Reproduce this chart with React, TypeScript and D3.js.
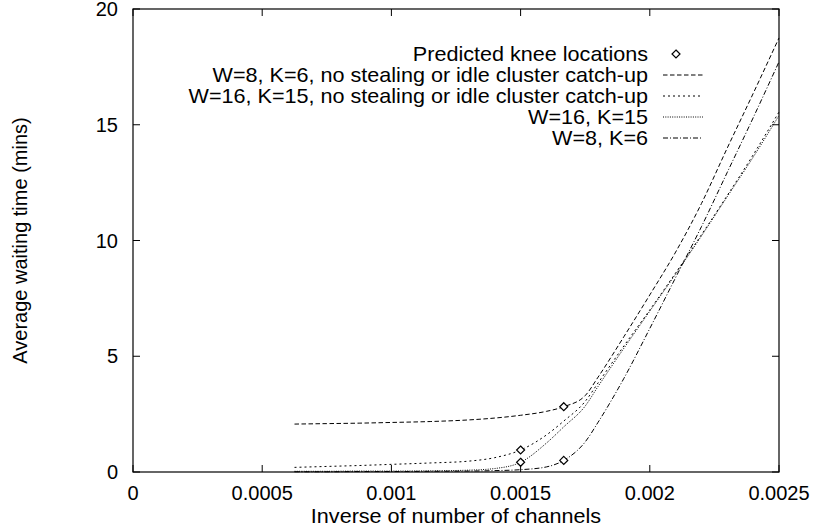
import React from 'react'
import * as d3 from 'd3'

// inverse of number of channels
const xs = [0.000625, 0.00075, 0.000875, 0.001, 0.00115, 0.0013, 0.0014, 0.0015, 0.0016, 0.001667, 0.00175, 0.0018, 0.0019, 0.002, 0.0021, 0.0022, 0.0023, 0.0024, 0.0025]

// average waiting time (mins)
const w8k6NoSteal = [2.07, 2.09, 2.11, 2.14, 2.18, 2.25, 2.33, 2.45, 2.62, 2.82, 3.3, 4.1, 5.85, 7.65, 9.5, 11.6, 14.0, 16.35, 18.75]
const w16k15NoSteal = [0.2, 0.24, 0.28, 0.33, 0.39, 0.47, 0.62, 0.95, 1.6, 2.2, 3.05, 3.85, 5.45, 7.0, 8.6, 10.25, 11.95, 13.7, 15.55]
const w16k15 = [0.03, 0.03, 0.04, 0.04, 0.05, 0.08, 0.15, 0.42, 1.25, 1.95, 2.85, 3.7, 5.35, 6.95, 8.55, 10.2, 11.9, 13.6, 15.4]
const w8k6 = [0.01, 0.01, 0.02, 0.02, 0.03, 0.04, 0.06, 0.1, 0.22, 0.5, 1.3, 2.15, 4.05, 6.2, 8.4, 10.6, 12.95, 15.3, 17.72]

const kneeX = [0.0015, 0.0015, 0.001667, 0.001667]
const kneeY = [0.42, 0.95, 0.5, 2.82]

const xTicks = [0, 0.0005, 0.001, 0.0015, 0.002, 0.0025]
const xTickLabels = ['0', '0.0005', '0.001', '0.0015', '0.002', '0.0025']
const yTicks = [0, 5, 10, 15, 20]

const seriesNames = [
  'W=8, K=6, no stealing or idle cluster catch-up',
  'W=16, K=15, no stealing or idle cluster catch-up',
  'W=16, K=15',
  'W=8, K=6',
]
const seriesValues = [w8k6NoSteal, w16k15NoSteal, w16k15, w8k6]
const dashes = ['4.5,2.5', '2,3', '1,1.3', '5,2,1,2']

const left = 133, right = 779, top = 9, bottom = 472
const font = 'Liberation Sans, Arial, Helvetica, sans-serif'

function Diamond({ cx, cy }: { cx: number; cy: number }) {
  const r = 4
  return (
    <path
      d={`M${cx},${cy - r}L${cx + r},${cy}L${cx},${cy + r}L${cx - r},${cy}Z`}
      fill="white"
      stroke="black"
      strokeWidth={1.2}
    />
  )
}

function HText({ x, y, anchor, size, stretch, children }: any) {
  return (
    <text
      transform={`translate(${x},${y}) scale(${stretch},1)`}
      textAnchor={anchor}
      dy="0.35em"
      fontSize={size}
      fontFamily={font}
      fill="black"
    >
      {children}
    </text>
  )
}

export default function App() {
  const x = d3.scaleLinear().domain([0, 0.0025]).range([left, right])
  const y = d3.scaleLinear().domain([0, 20]).range([bottom, top])

  const line = d3
    .line<number>()
    .x((d, i) => x(xs[i]))
    .y(d => y(d))
    .curve(d3.curveMonotoneX)

  const tickLen = 7
  const legendY = [54, 75, 96, 117, 138]
  const textRight = 648
  const sampleX1 = 663, sampleX2 = 703

  return (
    <svg width={814} height={529} style={{ position: 'absolute', left: 0, top: 0, background: 'white' }}>
      <rect x={0} y={0} width={814} height={529} fill="white" />

      {/* curves */}
      {seriesValues.map((vals, i) => (
        <path
          key={'s' + i}
          d={line(vals) || ''}
          fill="none"
          stroke="black"
          strokeWidth={1}
          strokeDasharray={dashes[i]}
        />
      ))}

      {/* knee markers */}
      {kneeX.map((kx, i) => (
        <Diamond key={'k' + i} cx={x(kx)} cy={y(kneeY[i])} />
      ))}

      {/* frame and mirrored ticks */}
      <rect x={left} y={top} width={right - left} height={bottom - top} fill="none" stroke="black" strokeWidth={1.2} />
      {xTicks.map((t, i) => (
        <g key={'xt' + i}>
          <line x1={x(t)} x2={x(t)} y1={bottom} y2={bottom - tickLen} stroke="black" />
          <line x1={x(t)} x2={x(t)} y1={top} y2={top + tickLen} stroke="black" />
          <text x={x(t)} y={493} dy="0.35em" textAnchor="middle" fontSize={20} fontFamily={font}>
            {xTickLabels[i]}
          </text>
        </g>
      ))}
      {yTicks.map((t, i) => (
        <g key={'yt' + i}>
          <line x1={left} x2={left + tickLen} y1={y(t)} y2={y(t)} stroke="black" />
          <line x1={right} x2={right - tickLen} y1={y(t)} y2={y(t)} stroke="black" />
          <text x={118} y={y(t)} dy="0.35em" textAnchor="end" fontSize={20} fontFamily={font}>
            {t}
          </text>
        </g>
      ))}

      {/* axis titles */}
      <HText x={(left + right) / 2} y={516} anchor="middle" size={20} stretch={1.08}>
        Inverse of number of channels
      </HText>
      <text
        transform={`translate(20,${(top + bottom) / 2}) rotate(-90)`}
        textAnchor="middle"
        dy="0.35em"
        fontSize={20}
        fontFamily={font}
      >
        Average waiting time (mins)
      </text>

      {/* key */}
      <HText x={textRight} y={legendY[0]} anchor="end" size={20} stretch={1.08}>
        Predicted knee locations
      </HText>
      <Diamond cx={676} cy={legendY[0]} />
      {seriesNames.map((name, i) => (
        <g key={'l' + i}>
          <HText x={textRight} y={legendY[i + 1]} anchor="end" size={20} stretch={1.08}>
            {name}
          </HText>
          <line
            x1={sampleX1}
            x2={sampleX2}
            y1={legendY[i + 1]}
            y2={legendY[i + 1]}
            stroke="black"
            strokeWidth={1}
            strokeDasharray={dashes[i]}
          />
        </g>
      ))}
    </svg>
  )
}
